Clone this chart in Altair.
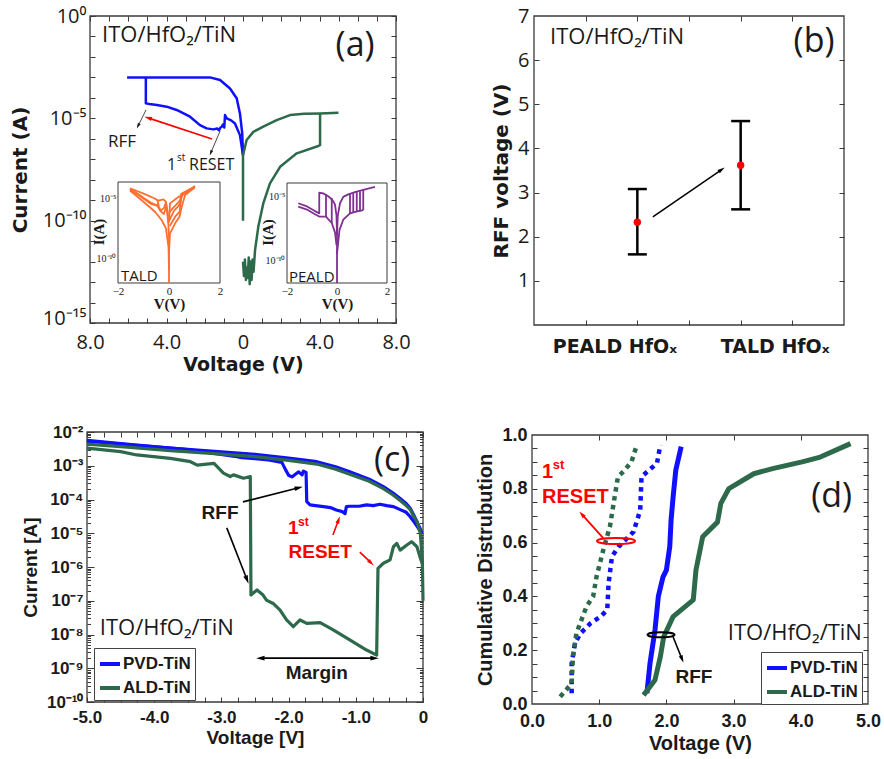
import math
import altair as alt
import pandas as pd

W, H = 884, 759
BLUE = "#1010FF"
GREEN = "#2D6A4B"
RED = "#FF0000"
ORANGE = "#FF6E2E"
PURPLE = "#7E3190"
INK = "#1a1a1a"
FRAME = "#3a3a3a"

# ---------------- (a) I-V curves: voltage (V), log10 current (A) ----------------
A_BLUE_UP_V = [-6.06, -5.0, -4.0, -3.0, -2.2, -1.73, -1.2, -0.68, -0.33, -0.16, -0.04, 0.0]
A_BLUE_UP_LOGI = [-3.0, -3.0, -3.0, -3.0, -3.0, -3.0, -3.13, -3.54, -4.02, -4.76, -5.74, -6.8]
A_BLUE_LO_V = [-5.08, -5.08, -4.9, -4.5, -3.99, -3.47, -2.77, -2.25, -1.9, -1.55, -1.35, -1.25,
               -1.18, -1.11, -1.05, -0.98, -0.94, -0.85, -0.62, -0.42, -0.16, 0.0]
A_BLUE_LO_LOGI = [-3.0, -4.27, -4.3, -4.35, -4.43, -4.59, -4.92, -5.33, -5.49, -5.54, -5.5, -5.58,
                  -5.45, -5.41, -5.3, -5.45, -4.84, -5.0, -5.1, -5.25, -5.82, -6.8]
A_GREEN_UP_V = [0.0, 0.0, 0.19, 0.54, 1.06, 1.76, 2.46, 3.2, 4.03, 4.99]
A_GREEN_UP_LOGI = [-10.0, -6.8, -6.06, -5.66, -5.41, -5.09, -4.84, -4.78, -4.76, -4.73]
A_GREEN_LO_V = [0.0, 0.05, 0.1, 0.15, 0.2, 0.25, 0.3, 0.35, 0.4, 0.45, 0.5, 0.55, 0.63, 0.8,
                1.06, 1.41, 1.94, 2.81, 3.94, 4.03, 4.03]
A_GREEN_LO_LOGI = [-12.0, -12.7, -11.9, -12.9, -12.3, -12.8, -11.8, -13.1, -12.0, -12.9, -11.9,
                   -12.5, -11.44, -10.3, -9.16, -8.18, -7.37, -6.71, -6.35, -6.31, -4.76]
A_XLABELS = [-8, -4, 0, 4, 8]
A_YLABEL_EXPS = [0, -5, -10, -15]

# insets (a): V (V), log10 I (A)
TALD_V = [
    [-1.53, -1.2, -0.88, -0.6, -0.42, -0.3, -0.22, -0.12, -0.05, 0.0, 0.0],
    [-1.53, -1.0, -0.55, -0.29, -0.12, -0.02, 0.0],
    [-1.53, -1.1, -0.7, -0.45, -0.35, -0.2, -0.1, -0.03],
    [-0.45, -0.4, -0.33, -0.2, -0.12],
    [-1.53, -1.25, -0.95, -0.7, -0.5, -0.38],
    [0.0, 0.04, 0.3, 0.69, 1.02],
    [0.0, 0.04, 0.24, 0.41, 0.5, 0.63, 1.02],
    [0.02, 0.2, 0.38, 0.45, 0.5, 0.8, 1.0],
    [0.03, 0.25, 0.42, 0.47, 0.55, 0.9],
    [0.0, 0.15, 0.35, 0.44, 0.48, 0.7, 1.0],
]
TALD_LOGI = [
    [-4.13, -4.4, -4.69, -4.95, -5.17, -5.1, -5.06, -5.26, -6.24, -8.2, -12.1],
    [-4.33, -5.26, -6.1, -6.8, -7.5, -9.05, -11.0],
    [-4.23, -4.85, -5.45, -5.6, -6.0, -6.3, -5.6, -7.0],
    [-5.2, -5.7, -6.0, -5.8, -5.3],
    [-4.2, -4.55, -5.0, -5.35, -5.55, -5.5],
    [-7.0, -5.4, -4.97, -4.42, -3.94],
    [-9.5, -7.92, -7.08, -6.52, -5.68, -4.69, -4.05],
    [-6.8, -6.0, -5.6, -5.3, -4.7, -4.3, -4.0],
    [-7.3, -6.5, -6.1, -5.0, -4.6, -4.2],
    [-6.2, -5.8, -5.35, -5.1, -4.6, -4.35, -4.02],
]
PEALD_V = [
    [-1.55, -1.2, -0.9, -0.71, -0.71, -0.55, -0.35, -0.2, -0.08, -0.02, 0.0, 0.0],
    [-1.55, -1.2, -0.9, -0.71, -0.44, -0.21, -0.08, -0.02],
    [-0.44, -0.44],
    [-0.21, -0.21],
    [0.0, 0.03, 0.12, 0.25, 0.45, 0.75, 1.05, 1.52],
    [0.0, 0.1, 0.25, 0.52, 0.8, 1.05],
    [0.52, 0.52], [0.65, 0.65], [0.79, 0.79], [0.92, 0.92], [1.05, 1.05],
]
PEALD_LOGI = [
    [-5.5, -5.75, -6.1, -6.3, -4.67, -4.72, -4.95, -5.2, -5.6, -6.5, -8.0, -11.8],
    [-5.77, -6.0, -6.35, -6.55, -6.56, -7.06, -7.8, -8.8],
    [-6.56, -4.8],
    [-7.06, -5.1],
    [-8.0, -6.5, -5.5, -5.0, -4.8, -4.6, -4.45, -4.2],
    [-9.5, -7.6, -6.8, -6.3, -6.15, -6.05],
    [-6.3, -4.75], [-6.25, -4.7], [-6.2, -4.62], [-6.15, -4.55], [-6.05, -4.45],
]

# ---------------- (b) RFF voltage ----------------
B_CATS = ["PEALD HfOₓ", "TALD HfOₓ"]
B_POS = [2, 4]
B_MEAN = [2.33, 3.62]
B_LOW = [1.6, 2.62]
B_HIGH = [3.08, 4.62]

# ---------------- (c) I-V, log10 current ----------------
C_PVD_UP_V = [-5.0, -4.4, -3.76, -3.1, -2.5, -2.0, -1.58, -1.3, -1.09, -0.8, -0.59, -0.45, -0.34,
              -0.26, -0.19, -0.14, -0.09, -0.045, -0.02]
C_PVD_UP_LOGI = [-2.27, -2.37, -2.48, -2.57, -2.66, -2.77, -2.88, -3.03, -3.18, -3.4, -3.62, -3.8,
                 -3.97, -4.1, -4.26, -4.45, -4.66, -4.85, -5.0]
C_PVD_LO_V = [-5.0, -4.3, -3.5, -2.8, -2.7, -2.5, -2.3, -2.1, -2.05, -2.0, -1.95, -1.9, -1.85, -1.8,
              -1.78, -1.74, -1.73, -1.68, -1.6, -1.48, -1.38, -1.29, -1.2, -1.16, -1.14, -1.09,
              -0.95, -0.84, -0.74, -0.64, -0.54, -0.44, -0.34, -0.25, -0.19, -0.12, -0.07, -0.02]
C_PVD_LO_LOGI = [-2.25, -2.38, -2.52, -2.72, -2.76, -2.79, -2.83, -2.9, -3.1, -3.28, -3.33, -3.25,
                 -3.18, -3.27, -3.16, -3.2, -4.06, -4.16, -4.18, -4.21, -4.24, -4.31, -4.36, -4.42,
                 -4.21, -4.2, -4.2, -4.16, -4.18, -4.14, -4.18, -4.21, -4.3, -4.38, -4.51, -4.7,
                 -4.85, -5.0]
C_ALD_UP_V = [-5.0, -4.4, -3.76, -3.1, -2.5, -2.0, -1.58, -1.3, -1.09, -0.8, -0.59, -0.45, -0.34,
              -0.26, -0.19, -0.14, -0.09, -0.04, -0.01, 0.0]
C_ALD_UP_LOGI = [-2.36, -2.45, -2.55, -2.64, -2.73, -2.84, -2.95, -3.1, -3.25, -3.46, -3.68, -3.86,
                 -4.03, -4.16, -4.3, -4.5, -4.65, -5.0, -5.8, -7.0]
C_ALD_LO_V = [-5.0, -4.5, -4.26, -4.01, -3.76, -3.46, -3.36, -3.11, -2.97, -2.87, -2.82, -2.67,
              -2.57, -2.56, -2.53, -2.47, -2.38, -2.33, -2.23, -2.13, -2.03, -1.93, -1.83, -1.73,
              -1.53, -1.33, -1.09, -0.84, -0.69, -0.67, -0.59, -0.49, -0.44, -0.39, -0.34, -0.24,
              -0.17, -0.09, -0.045, -0.01]
C_ALD_LO_LOGI = [-2.48, -2.58, -2.68, -2.73, -2.78, -2.88, -2.98, -2.93, -3.22, -3.32, -3.27, -3.37,
                 -3.32, -6.83, -6.78, -6.68, -6.83, -6.98, -7.08, -7.27, -7.57, -7.77, -7.57,
                 -7.67, -7.65, -7.87, -8.16, -8.46, -8.61, -6.04, -5.89, -5.79, -5.4, -5.3, -5.5,
                 -5.35, -5.25, -5.4, -5.7, -5.9]
C_SERIES = ["PVD-TiN", "ALD-TiN"]

# ---------------- (d) cumulative distribution ----------------
D_PVD_RFF_V = [1.71, 1.756, 1.83, 1.88, 1.95, 2.0, 2.05, 2.07, 2.10, 2.14, 2.22]
D_PVD_RFF_P = [0.04, 0.151, 0.275, 0.40, 0.473, 0.498, 0.585, 0.685, 0.77, 0.87, 0.957]
D_ALD_RFF_V = [1.66, 1.83, 1.91, 1.96, 2.10, 2.40, 2.44, 2.54, 2.76, 2.81, 2.93, 3.3, 3.58, 4.02, 4.29, 4.74]
D_ALD_RFF_P = [0.033, 0.089, 0.176, 0.25, 0.325, 0.387, 0.498, 0.622, 0.676, 0.746, 0.801, 0.856,
               0.875, 0.90, 0.918, 0.968]
D_PVD_RST_V = [0.59, 0.59, 0.64, 0.72, 0.87, 1.02, 1.12, 1.14, 1.19, 1.29, 1.51, 1.61, 1.63, 1.86, 1.91]
D_PVD_RST_P = [0.04, 0.151, 0.225, 0.262, 0.30, 0.325, 0.35, 0.449, 0.548, 0.585, 0.64, 0.72, 0.845,
               0.895, 0.963]
D_ALD_RST_V = [0.42, 0.59, 0.61, 0.66, 0.81, 0.91, 0.96, 1.06, 1.16, 1.23, 1.28, 1.36, 1.48, 1.56]
D_ALD_RST_P = [0.027, 0.076, 0.176, 0.262, 0.362, 0.40, 0.473, 0.572, 0.66, 0.77, 0.845, 0.864,
               0.90, 0.963]

# ---------------- layout ----------------
PANELS = {
    'a': dict(box=(90, 16, 396, 323), xd=(-8, 8), yd=(1e-15, 1.0), log=True),
    'b': dict(box=(534, 16, 844, 325), xd=(0, 6), yd=(0, 7), log=False),
    'c': dict(box=(87, 432, 423, 702), xd=(-5, 0), yd=(1e-10, 1e-2), log=True),
    'd': dict(box=(532, 435, 868, 704), xd=(0, 5), yd=(0, 1), log=False),
    'i1': dict(box=(118, 182, 220, 283), xd=(-2, 2), yd=(10 ** -12.1, 10 ** -3.6), log=True),
    'i2': dict(box=(287, 183, 387, 283), xd=(-2, 2), yd=(10 ** -11.8, 10 ** -3.9), log=True),
}

SUP = str.maketrans("-0123456789", "⁻⁰¹²³⁴⁵⁶⁷⁸⁹")


def sup(n):
    return str(n).translate(SUP)


def log_label_expr(exps):
    e = "round(log(datum.value)/LN10)"
    return ":".join(f"{e}=={k}?'10{sup(k)}'" for k in exps) + ":''"


def val(p, v):
    return 10 ** v if p['log'] else v


def sx(p):
    L, T, R, B = p['box']
    return alt.Scale(domain=list(p['xd']), range=[L, R], nice=False, zero=False)


def sy(p):
    L, T, R, B = p['box']
    if p['log']:
        return alt.Scale(type='log', domain=list(p['yd']), range=[B, T], nice=False)
    return alt.Scale(domain=list(p['yd']), range=[B, T], nice=False, zero=False)


def ex(p, field='x', axis=None):
    return alt.X(f'{field}:Q', scale=sx(p), axis=axis)


def ey(p, field='y', axis=None):
    return alt.Y(f'{field}:Q', scale=sy(p), axis=axis)


def to_px(p, x, y):
    L, T, R, B = p['box']
    x0, x1 = p['xd']
    y0, y1 = p['yd']
    px = L + (x - x0) / (x1 - x0) * (R - L)
    if p['log']:
        t = (math.log10(y) - math.log10(y0)) / (math.log10(y1) - math.log10(y0))
    else:
        t = (y - y0) / (y1 - y0)
    return px, B - t * (B - T)


def from_px(p, px, py):
    L, T, R, B = p['box']
    x0, x1 = p['xd']
    y0, y1 = p['yd']
    x = x0 + (px - L) / (R - L) * (x1 - x0)
    t = (B - py) / (B - T)
    if p['log']:
        y = 10 ** (math.log10(y0) + t * (math.log10(y1) - math.log10(y0)))
    else:
        y = y0 + t * (y1 - y0)
    return x, y


def lab_axis(orient, offset, values, title, lfont, lsize, lweight, lpad, tfont, tsize, tpad,
             expr=None, fmt=None, **extra):
    kw = dict(orient=orient, offset=offset, values=values, ticks=False, domain=False, grid=False,
              labelFont=lfont, labelFontSize=lsize, labelFontWeight=lweight, labelColor=INK,
              labelPadding=lpad, labelFlush=False, labelOverlap=False, title=title,
              titleFont=tfont, titleFontSize=tsize, titleFontWeight='bold', titleColor=INK,
              titlePadding=tpad)
    if expr:
        kw['labelExpr'] = expr
    if fmt:
        kw['format'] = fmt
    kw.update(extra)
    return alt.Axis(**kw)


def frame(p, xaxis, yaxis, xt=None, yt=None, tsx=5, tsy=5, fill_opacity=0.0, sw=1.3):
    L, T, R, B = p['box']
    df = pd.DataFrame({'x': [p['xd'][0]], 'x2': [p['xd'][1]], 'y': [p['yd'][0]], 'y2': [p['yd'][1]]})
    out = [alt.Chart(df).mark_rect(fill='white', fillOpacity=fill_opacity, stroke=FRAME,
                                   strokeWidth=sw).encode(
        x=ex(p, axis=xaxis), x2=alt.X2('x2'), y=ey(p, axis=yaxis), y2=alt.Y2('y2'))]
    if xt is not None:
        tk = dict(labels=False, domain=False, grid=False, title=None, tickColor=FRAME, tickWidth=1)
        in_b = alt.Axis(orient='top', offset=-B, values=xt, tickSize=tsx, **tk)
        in_l = alt.Axis(orient='right', offset=L - W, values=yt, tickSize=tsy, **tk)
        in_t = alt.Axis(orient='bottom', offset=T - H, values=xt, tickSize=tsx, **tk)
        in_r = alt.Axis(orient='left', offset=-R, values=yt, tickSize=tsy, **tk)
        for axx, axy in ((in_b, in_l), (in_t, in_r)):
            out.append(alt.Chart(df).mark_rect(opacity=0).encode(
                x=ex(p, axis=axx), x2=alt.X2('x2'), y=ey(p, axis=axy), y2=alt.Y2('y2')))
    return out


def lines(p, items, domain, rng, sw, dash=None, legend=None):
    rows = []
    for b, (s, xs_, ys_) in enumerate(items):
        for i, (xv, yv) in enumerate(zip(xs_, ys_)):
            rows.append({'x': xv, 'y': val(p, yv), 's': s, 'b': b, 'i': i})
    mk = dict(strokeWidth=sw, strokeJoin='round')
    if dash:
        mk['strokeDash'] = dash
    return alt.Chart(pd.DataFrame(rows)).mark_line(**mk).encode(
        x=ex(p), y=ey(p),
        color=alt.Color('s:N', scale=alt.Scale(domain=domain, range=rng), legend=legend),
        detail='b:N', order='i:Q')


def txt(p, x, y, t, **mk):
    df = pd.DataFrame({'x': [x], 'y': [val(p, y)], 't': [t]})
    return alt.Chart(df).mark_text(**mk).encode(x=ex(p), y=ey(p), text='t:N')


HEAD = "M0,-1L-0.55,1L0.55,1Z"


def arrows(p, segs, color, sw, hs, both=False):
    rows, heads = [], []
    h = math.sqrt(hs) / 2
    for (x1, y1, x2, y2) in segs:
        a = (x1, val(p, y1))
        b = (x2, val(p, y2))
        ends = [(a, b)] + ([(b, a)] if both else [])
        pts = {}
        for (s, e) in ends:
            sxp, syp = to_px(p, *s)
            exq, eyq = to_px(p, *e)
            dx, dy = exq - sxp, eyq - syp
            ln = math.hypot(dx, dy)
            cx, cy = exq - dx / ln * h * 0.8, eyq - dy / ln * h * 0.8
            hx, hy = from_px(p, cx, cy)
            heads.append({'x': hx, 'y': hy, 'a': math.degrees(math.atan2(dx, -dy)) % 360})
            pts[e] = (hx, hy)
        a2 = pts.get(a, a)
        b2 = pts.get(b, b)
        rows.append({'x': a2[0], 'y': a2[1], 'x2': b2[0], 'y2': b2[1]})
    rule = alt.Chart(pd.DataFrame(rows)).mark_rule(color=color, strokeWidth=sw).encode(
        x=ex(p), y=ey(p), x2=alt.X2('x2'), y2=alt.Y2('y2'))
    head = alt.Chart(pd.DataFrame(heads)).mark_point(
        shape=HEAD, filled=True, color=color, size=hs, opacity=1, strokeWidth=0).encode(
        x=ex(p), y=ey(p), angle=alt.Angle('a:Q', scale=None))
    return [rule, head]


def ellipse(p, x, y, size, ry, color, sw):
    path = f"M-1,0A1,{ry},0,1,1,1,0A1,{ry},0,1,1,-1,0Z"
    df = pd.DataFrame({'x': [x], 'y': [val(p, y)]})
    return alt.Chart(df).mark_point(shape=path, size=size, filled=False, color=color,
                                    strokeWidth=sw, opacity=1).encode(x=ex(p), y=ey(p))


layers = []
NORM = dict(font='Open Sans', color=INK)

# ===================== panel (a) =====================
PA = PANELS['a']
ax_ax = lab_axis('bottom', PA['box'][3] - H, A_XLABELS, 'Voltage (V)', 'Open Sans', 20, 'normal', 9,
                 'DejaVu Sans', 19, 3, expr="datum.value==0?'0':format(abs(datum.value),'.1f')")
ax_ay = lab_axis('left', -PA['box'][0], [10.0 ** k for k in A_YLABEL_EXPS], 'Current (A)',
                 'Open Sans', 20, 'normal', 4, 'DejaVu Sans', 20, 12, expr=log_label_expr(A_YLABEL_EXPS),
                 labelOffset={"condition": {"test": "datum.value < 1e-14", "value": -5}, "value": 0})
layers += frame(PA, ax_ax, ax_ay, xt=list(range(-8, 9)), yt=[10.0 ** -k for k in range(16)])
layers.append(lines(PA, [('b', A_BLUE_UP_V, A_BLUE_UP_LOGI), ('b', A_BLUE_LO_V, A_BLUE_LO_LOGI),
                         ('g', A_GREEN_UP_V, A_GREEN_UP_LOGI), ('g', A_GREEN_LO_V, A_GREEN_LO_LOGI)],
                    ['b', 'g'], [BLUE, GREEN], 2.5))
layers.append(txt(PA, -7.37, -0.93, "ITO/HfO₂/TiN", align='left', fontSize=22, **NORM))
layers.append(txt(PA, 5.86, -1.45, "(a)", fontSize=34, **NORM))
layers.append(txt(PA, -6.33, -6.16, "RFF", fontSize=17, **NORM))
layers.append(txt(PA, -3.97, -7.28, "1", align='left', fontSize=16, **NORM))
layers.append(txt(PA, -3.45, -6.94, "st", align='left', fontSize=10, **NORM))
layers.append(txt(PA, -2.82, -7.28, "RESET", align='left', fontSize=16, **NORM))
layers += arrows(PA, [(-1.62, -6.01, -5.12, -4.93)], RED, 1.6, 60)
layers += arrows(PA, [(-5.07, -4.59, -5.54, -5.47), (-1.2, -5.62, -1.73, -6.79)], INK, 0.8, 30)

# insets
SERIF = 'Liberation Serif'
for key, vv, ii, col, name, nx, ny in (('i1', TALD_V, TALD_LOGI, ORANGE, 'TALD', -1.88, -11.51),
                                       ('i2', PEALD_V, PEALD_LOGI, PURPLE, 'PEALD', -1.92, -11.32)):
    PI = PANELS[key]
    L_, T_, R_, B_ = PI['box']
    ix = lab_axis('bottom', B_ - H, [-2, 0, 2], 'V(V)', SERIF, 11, 'normal', 2,
                  SERIF, 15, 0)
    iy = lab_axis('left', -L_, [1e-5, 1e-10], 'I(A)', SERIF, 10, 'normal', 2,
                  SERIF, 15, 2, expr=log_label_expr([-5, -10]), titleX=-12, titleY=(T_ + B_) / 2 - 1)
    layers += frame(PI, ix, iy, fill_opacity=1.0, sw=1.0)
    layers.append(lines(PI, [(name, v, c) for v, c in zip(vv, ii)], [name], [col], 1.8))
    layers.append(txt(PI, nx, ny, name, align='left', fontSize=15, **NORM))

# ===================== panel (b) =====================
PB = PANELS['b']
bx_expr = ":".join(f"datum.value=={p_}?'{c}'" for p_, c in zip(B_POS, B_CATS)) + ":''"
ax_bx = lab_axis('bottom', PB['box'][3] - H, B_POS, None, 'DejaVu Sans', 19, 'bold', 12,
                 'DejaVu Sans', 19, 0, expr=bx_expr,
                 labelOffset={"condition": {"test": f"datum.value=={B_POS[0]}", "value": -23}, "value": 34})
ax_by = lab_axis('left', -PB['box'][0], [1, 2, 3, 4, 5, 6, 7], 'RFF voltage (V)', 'Open Sans', 20,
                 'normal', 5, 'DejaVu Sans', 20, 6)
layers += frame(PB, ax_bx, ax_by, xt=[1, 2, 3, 4, 5], yt=[1, 2, 3, 4, 5, 6])
bdf = pd.DataFrame({'x': B_POS, 'y': B_LOW, 'y2': B_HIGH, 'm': B_MEAN})
layers.append(alt.Chart(bdf).mark_rule(color='black', strokeWidth=2.5).encode(
    x=ex(PB), y=ey(PB), y2=alt.Y2('y2')))
caps = pd.DataFrame({'x': B_POS + B_POS, 'y': B_LOW + B_HIGH})
layers.append(alt.Chart(caps).mark_tick(orient='horizontal', size=19, thickness=2.5,
                                        color='black', opacity=1).encode(x=ex(PB), y=ey(PB)))
layers.append(alt.Chart(bdf).mark_circle(size=55, color=RED, opacity=1).encode(
    x=ex(PB), y=ey(PB, 'm')))
layers += arrows(PB, [(2.3, 2.45, 3.68, 3.56)], 'black', 1.5, 55)
layers.append(txt(PB, 0.31, 6.52, "ITO/HfO₂/TiN", align='left', fontSize=22, **NORM))
layers.append(txt(PB, 5.42, 6.41, "(b)", fontSize=34, **NORM))

# ===================== panel (c) =====================
PC = PANELS['c']
BOLD = dict(font='Liberation Sans', fontWeight='bold')
ax_cx = lab_axis('bottom', PC['box'][3] - H, [-5, -4, -3, -2, -1, 0], 'Voltage [V]',
                 'Liberation Sans', 17, 'bold', 7, 'Liberation Sans', 19, 3,
                 expr="datum.value==0?'0':'-'+format(abs(datum.value),'.1f')")
c_exps = list(range(-2, -11, -1))
ax_cy = lab_axis('left', -PC['box'][0], [10.0 ** k for k in c_exps], 'Current [A]',
                 'Liberation Sans', 17, 'bold', 4, 'Liberation Sans', 19, 6,
                 expr=log_label_expr(c_exps))
c_minor = [m * 10.0 ** e for e in range(-10, -2) for m in range(1, 10)] + [1e-2]
major_test = "abs(log(datum.value)/LN10 - round(log(datum.value)/LN10)) < 0.001"
layers += frame(PC, ax_cx, ax_cy, xt=[-5 + 0.25 * k for k in range(21)], yt=c_minor,
                tsx=5, tsy={"condition": {"test": major_test, "value": 7}, "value": 3.5})
c_leg = alt.Legend(orient='none', legendX=94, legendY=648, title=None, symbolType='stroke',
                   symbolStrokeWidth=4, symbolSize=400, labelFont='Liberation Sans',
                   labelFontWeight='bold', labelFontSize=17, labelColor=INK, strokeColor='#444',
                   fillColor='white', padding=4, rowPadding=4, labelOffset=1)
layers.append(lines(PC, [('PVD-TiN', C_PVD_UP_V, C_PVD_UP_LOGI), ('PVD-TiN', C_PVD_LO_V, C_PVD_LO_LOGI),
                         ('ALD-TiN', C_ALD_UP_V, C_ALD_UP_LOGI), ('ALD-TiN', C_ALD_LO_V, C_ALD_LO_LOGI)],
                    C_SERIES, [BLUE, GREEN], 3.2, legend=c_leg))
layers.append(txt(PC, -0.46, -2.86, "(c)", fontSize=34, **NORM))
layers.append(txt(PC, -4.81, -7.81, "ITO/HfO₂/TiN", align='left', fontSize=22, **NORM))
layers.append(txt(PC, -3.02, -4.4, "RFF", fontSize=19, color=INK, **BOLD))
layers.append(txt(PC, -2.01, -4.84, "1", align='left', fontSize=19, color=RED, **BOLD))
layers.append(txt(PC, -1.86, -4.67, "st", align='left', fontSize=12, color=RED, **BOLD))
layers.append(txt(PC, -1.53, -5.56, "RESET", fontSize=19, color=RED, **BOLD))
layers.append(txt(PC, -1.58, -9.14, "Margin", fontSize=19, color=INK, **BOLD))
layers += arrows(PC, [(-2.68, -4.07, -1.80, -3.63), (-2.92, -4.84, -2.6, -6.47)], 'black', 1.6, 70)
layers += arrows(PC, [(-1.34, -5.05, -1.24, -4.52), (-0.94, -5.56, -0.74, -5.94)], RED, 1.6, 55)
layers += arrows(PC, [(-2.47, -8.70, -0.67, -8.70)], 'black', 1.6, 70, both=True)

# ===================== panel (d) =====================
PD = PANELS['d']
ax_dx = lab_axis('bottom', PD['box'][3] - H, [0, 1, 2, 3, 4, 5], 'Voltage (V)', 'Liberation Sans', 18,
                 'bold', 8, 'Liberation Sans', 20, 3, fmt='.1f')
ax_dy = lab_axis('left', -PD['box'][0], [0, 0.2, 0.4, 0.6, 0.8, 1.0], 'Cumulative Distrubution',
                 'Liberation Sans', 18, 'bold', 5, 'Liberation Sans', 20, 6, fmt='.1f')
layers += frame(PD, ax_dx, ax_dy, xt=[1, 2, 3, 4], yt=[round(0.05 * k, 2) for k in range(1, 20)])
layers.append(lines(PD, [('PVD-TiN', D_PVD_RST_V, D_PVD_RST_P), ('ALD-TiN', D_ALD_RST_V, D_ALD_RST_P)],
                    C_SERIES, [BLUE, GREEN], 4.5, dash=[4.5, 4.5]))
d_leg = alt.Legend(orient='none', legendX=761, legendY=652, title=None, symbolType='stroke',
                   symbolStrokeWidth=4, symbolSize=400, labelFont='Liberation Sans',
                   labelFontWeight='bold', labelFontSize=17, labelColor=INK, strokeColor='#444',
                   fillColor='white', padding=4, rowPadding=4, labelOffset=1)
layers.append(lines(PD, [('PVD-TiN', D_PVD_RFF_V, D_PVD_RFF_P), ('ALD-TiN', D_ALD_RFF_V, D_ALD_RFF_P)],
                    C_SERIES, [BLUE, GREEN], 5, legend=d_leg))
layers.append(txt(PD, 4.46, 0.77, "(d)", fontSize=34, **NORM))
layers.append(txt(PD, 4.91, 0.264, "ITO/HfO₂/TiN", align='right', fontSize=22, **NORM))
layers.append(txt(PD, 0.149, 0.862, "1", align='left', fontSize=20, color=RED, **BOLD))
layers.append(txt(PD, 0.31, 0.888, "st", align='left', fontSize=13, color=RED, **BOLD))
layers.append(txt(PD, 0.149, 0.77, "RESET", align='left', fontSize=20, color=RED, **BOLD))
layers.append(txt(PD, 2.41, 0.10, "RFF", fontSize=19, color=INK, **BOLD))
layers += arrows(PD, [(1.06, 0.617, 0.71, 0.714)], RED, 1.8, 55)
layers += arrows(PD, [(2.10, 0.249, 2.25, 0.156)], 'black', 1.6, 55)
layers.append(ellipse(PD, 1.25, 0.606, 1444, 0.16, RED, 2))
layers.append(ellipse(PD, 1.92, 0.257, 729, 0.185, 'black', 2))

chart = alt.layer(*layers).resolve_scale(
    x='independent', y='independent', color='independent'
).properties(
    width=W, height=H, autosize=alt.AutoSizeParams(type='none'), padding=0
).configure_view(strokeWidth=0)

chart.save("out.html", embed_options={"renderer": "svg", "actions": False})
